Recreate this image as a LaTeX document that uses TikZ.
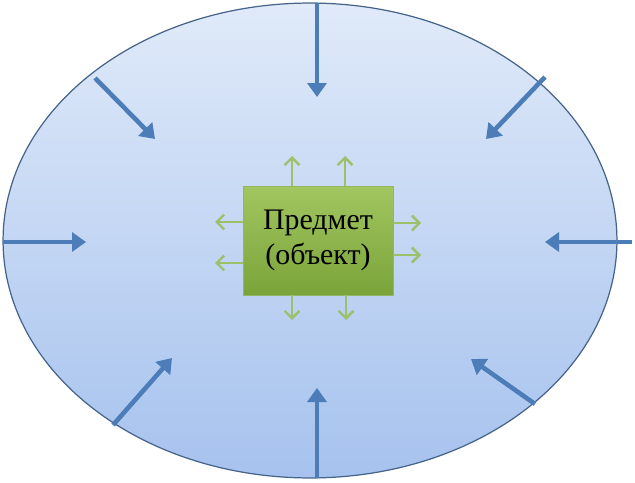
\documentclass[tikz,border=0pt]{standalone}
\usepackage{fontspec}
\setmainfont{Liberation Serif}
\usepackage{tikz}
\usetikzlibrary{arrows.meta,shapes.geometric}

\definecolor{rimblue}{HTML}{46648A}
\definecolor{topblue}{HTML}{E0EAF9}
\definecolor{botblue}{HTML}{A6C2EE}
\definecolor{arrblue}{HTML}{4C7DB8}
\definecolor{boxtop}{HTML}{A2C660}
\definecolor{boxbot}{HTML}{7AA43A}
\definecolor{sprout}{HTML}{9DC06A}

\tikzset{
  field/.style={ellipse,draw=rimblue,line width=0.7pt,top color=topblue,
    bottom color=botblue,minimum width=12.28cm,minimum height=9.5cm,inner sep=0pt},
  objbox/.style={rectangle,draw=boxbot!80!white,line width=0.4pt,top color=boxtop,
    bottom color=boxbot,minimum width=3cm,minimum height=2.18cm,align=center,
    font=\fontsize{17}{19.5}\selectfont},
  inarr/.style={arrblue,line width=2.6pt,-{Triangle[width=0.38cm,length=0.28cm]}},
  outarr/.style={sprout,line width=1.4pt,-{Straight Barb[width=0.3cm,length=0.15cm]}}
}

\begin{document}
\begin{tikzpicture}[x=0.02cm,y=-0.02cm]
     \useasboundingbox (0,0) rectangle (635,483);
     \node[field] (fld) at (310,240.5) {};
     \node[objbox] (obj) at (318,240.5) {Предмет\\(объект)};
     % arrows pointing in
     \coordinate (n0) at (317,3);   \coordinate (n1) at (317,97);
     \coordinate (ne0) at (545,77); \coordinate (ne1) at (486,139);
     \coordinate (e0) at (632,242); \coordinate (e1) at (545,242);
     \coordinate (se0) at (535,404);\coordinate (se1) at (471,359);
     \coordinate (s0) at (317,478); \coordinate (s1) at (317,388);
     \coordinate (sw0) at (113,425);\coordinate (sw1) at (172,358);
     \coordinate (w0) at (3,242);   \coordinate (w1) at (86,242);
     \coordinate (nw0) at (95,78);  \coordinate (nw1) at (155,139);
     \draw[inarr] (n0) -- (n1);
     \draw[inarr] (ne0) -- (ne1);
     \draw[inarr] (e0) -- (e1);
     \draw[inarr] (se0) -- (se1);
     \draw[inarr] (s0) -- (s1);
     \draw[inarr] (sw0) -- (sw1);
     \draw[inarr] (w0) -- (w1);
     \draw[inarr] (nw0) -- (nw1);
     % arrows pointing out
     \coordinate (up1) at (292,156); \coordinate (up2) at (345,156);
     \coordinate (dn1) at (292,320); \coordinate (dn2) at (346,320);
     \coordinate (lf1) at (215,222); \coordinate (lf2) at (215,263);
     \coordinate (rt1) at (421,223); \coordinate (rt2) at (421,255);
     \draw[outarr] (obj.north -| up1) -- (up1);
     \draw[outarr] (obj.north -| up2) -- (up2);
     \draw[outarr] (obj.south -| dn1) -- (dn1);
     \draw[outarr] (obj.south -| dn2) -- (dn2);
     \draw[outarr] (obj.west |- lf1) -- (lf1);
     \draw[outarr] (obj.west |- lf2) -- (lf2);
     \draw[outarr] (obj.east |- rt1) -- (rt1);
     \draw[outarr] (obj.east |- rt2) -- (rt2);
    \end{tikzpicture}
\end{document}
